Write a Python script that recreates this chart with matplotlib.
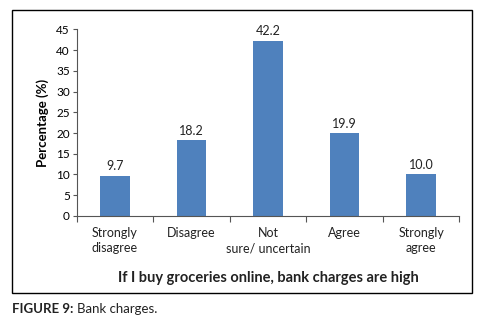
import numpy as np
import matplotlib.pyplot as plt
from matplotlib.patches import Rectangle

# Chart data
categories = ["Strongly\ndisagree", "Disagree", "Not\nsure/ uncertain", "Agree", "Strongly\nagree"]
percentages = [9.7, 18.2, 42.2, 19.9, 10.0]
y_ticks = [0, 5, 10, 15, 20, 25, 30, 35, 40, 45]

plt.rcParams['font.family'] = ['Lato', 'DejaVu Sans']

fig = plt.figure(figsize=(4.83, 3.28), dpi=100)
ax = fig.add_axes([0.1588, 0.3415, 0.951 - 0.1588, 0.9107 - 0.3415])

x = np.arange(len(categories))
bars = ax.bar(x, percentages, width=0.39, color='#4F81BD')

for xi, v in zip(x, percentages):
    ax.text(xi, v + 0.9, f"{v:.1f}", ha='center', va='bottom', fontsize=9, color='#222222')

ax.set_xlim(-0.5, len(categories) - 0.5)
ax.set_ylim(0, 45)
ax.set_yticks(y_ticks)
ax.tick_params(axis='y', labelsize=8.5, length=3, width=0.8, color='#555555', pad=2)

# category labels between boundary ticks
ax.set_xticks(np.arange(len(categories) + 1) - 0.5)
ax.set_xticklabels([])
ax.tick_params(axis='x', length=4, width=0.8, color='#555555')
for xi, lab in zip(x, categories):
    ax.text(xi, -2.6, lab, ha='center', va='top', fontsize=9, linespacing=1.35,
            color='#222222')

for side in ['top', 'right']:
    ax.spines[side].set_visible(False)
for side in ['left', 'bottom']:
    ax.spines[side].set_color('#555555')
    ax.spines[side].set_linewidth(0.8)

ax.set_ylabel("Percentage (%)", fontsize=9.5, fontweight='bold', labelpad=5)
fig.text(0.5 + 0.055, 1 - 278 / 328, "If I buy groceries online, bank charges are high",
         ha='center', va='center', fontsize=10.5, fontweight='bold', color='#222222')

# outer frame
fig.patches.append(Rectangle((12 / 483, 1 - 293 / 328), 460 / 483, 283 / 328,
                             transform=fig.transFigure, fill=False,
                             edgecolor='black', linewidth=1.0))

cap1 = fig.text(12 / 483, 1 - 309 / 328, "FIGURE 9:", fontsize=9.5, fontweight='bold',
                va='center', ha='left', color='#222222')
fig.canvas.draw()
bb = cap1.get_window_extent()
fig.text((bb.x1 + 4) / 483, 1 - 309 / 328, "Bank charges.", fontsize=9.5,
         va='center', ha='left', color='#222222')

fig.savefig("out.png", dpi=100)
